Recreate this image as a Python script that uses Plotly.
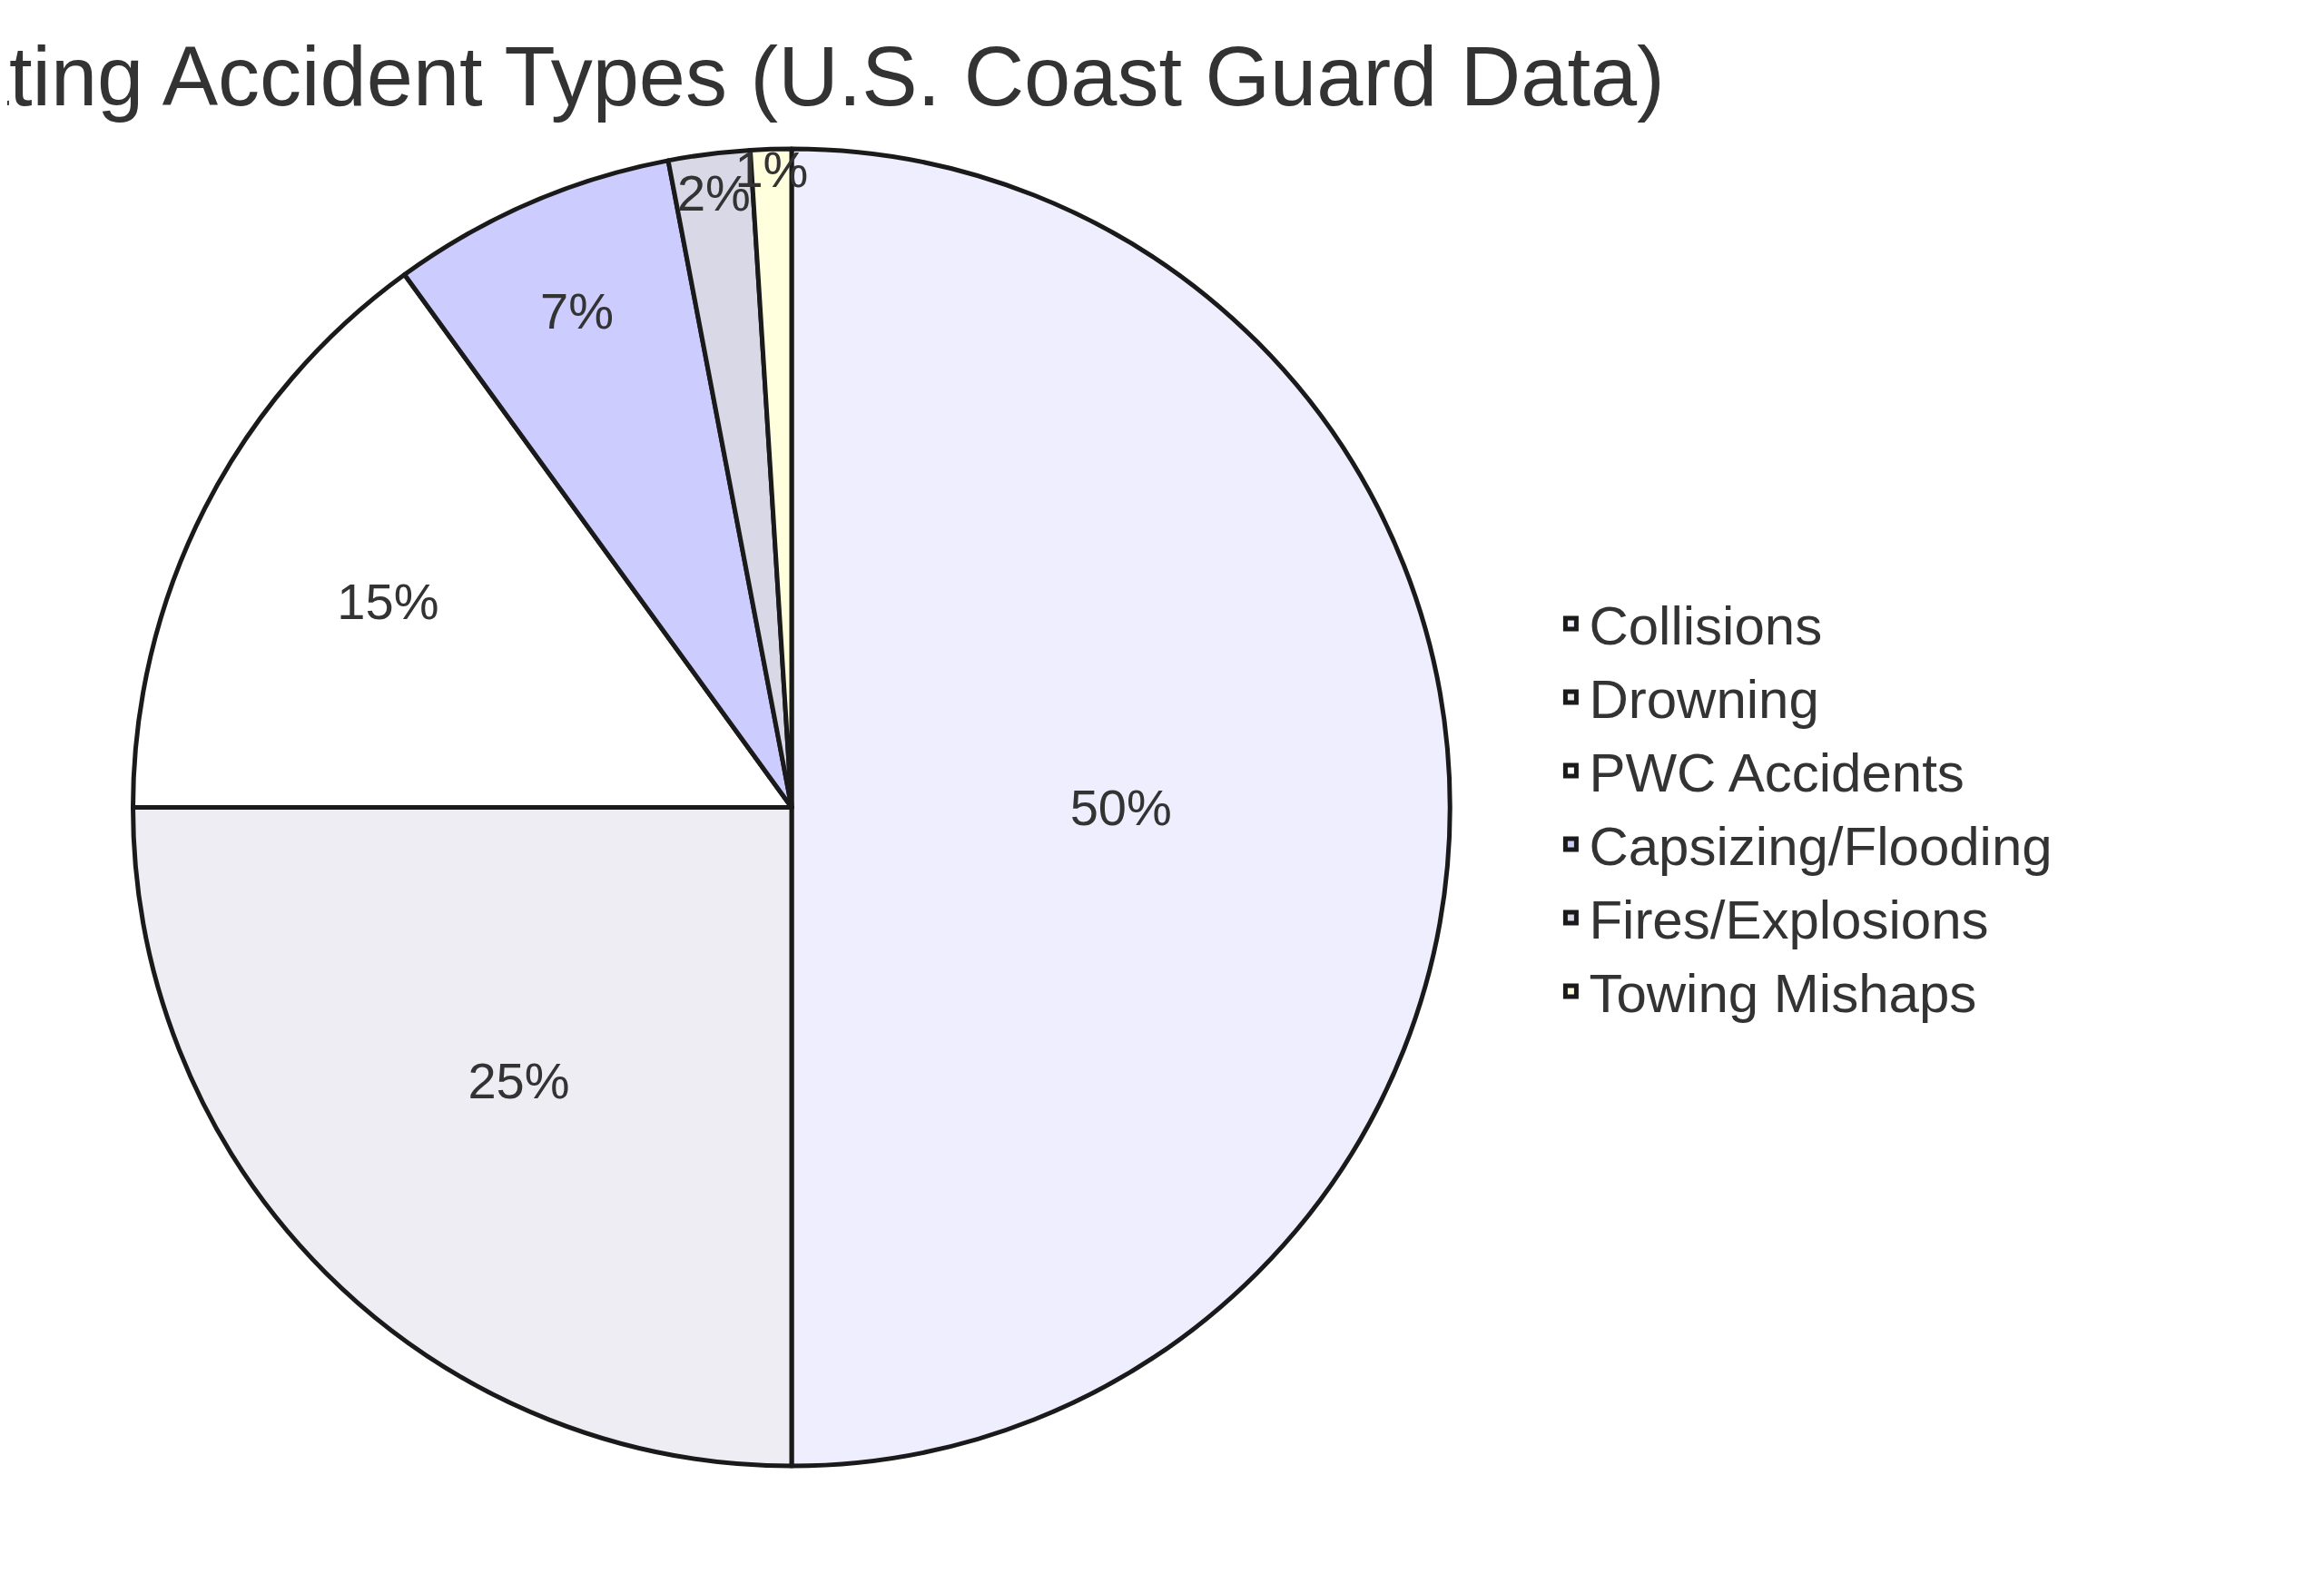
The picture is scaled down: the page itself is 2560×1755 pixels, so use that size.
import plotly.graph_objects as go

labels = ["Collisions", "Drowning", "PWC Accidents", "Capsizing/Flooding", "Fires/Explosions", "Towing Mishaps"]
values = [50, 25, 15, 7, 2, 1]
colors = ["#EEEEFF", "#EEEDF4", "#FFFFFF", "#CCCCFF", "#D8D8E6", "#FFFFDD"]

fig = go.Figure(go.Pie(
    labels=labels, values=values, sort=False, direction="clockwise", rotation=0,
    marker=dict(colors=colors, line=dict(color="#1a1a1a", width=5)),
    textinfo="percent", textposition="inside", insidetextorientation="horizontal",
    textfont=dict(size=56, color="#333333", family="Arial"),
    domain=dict(x=[0.0, 0.675], y=[0, 1]),
))
fig.update_layout(
    width=2560, height=1755,
    uniformtext=dict(minsize=56, mode="show"),
    title=dict(text="Boating Accident Types (U.S. Coast Guard Data)", x=0.325, xanchor="center",
               y=0.975, yanchor="top", font=dict(size=92, color="#333333", family="Arial")),
    legend=dict(x=0.665, y=0.5, yanchor="middle", font=dict(size=60, color="#333333", family="Arial")),
    margin=dict(l=0, r=0, t=156, b=148),
    paper_bgcolor="white",
)
fig.write_html("out.html")
